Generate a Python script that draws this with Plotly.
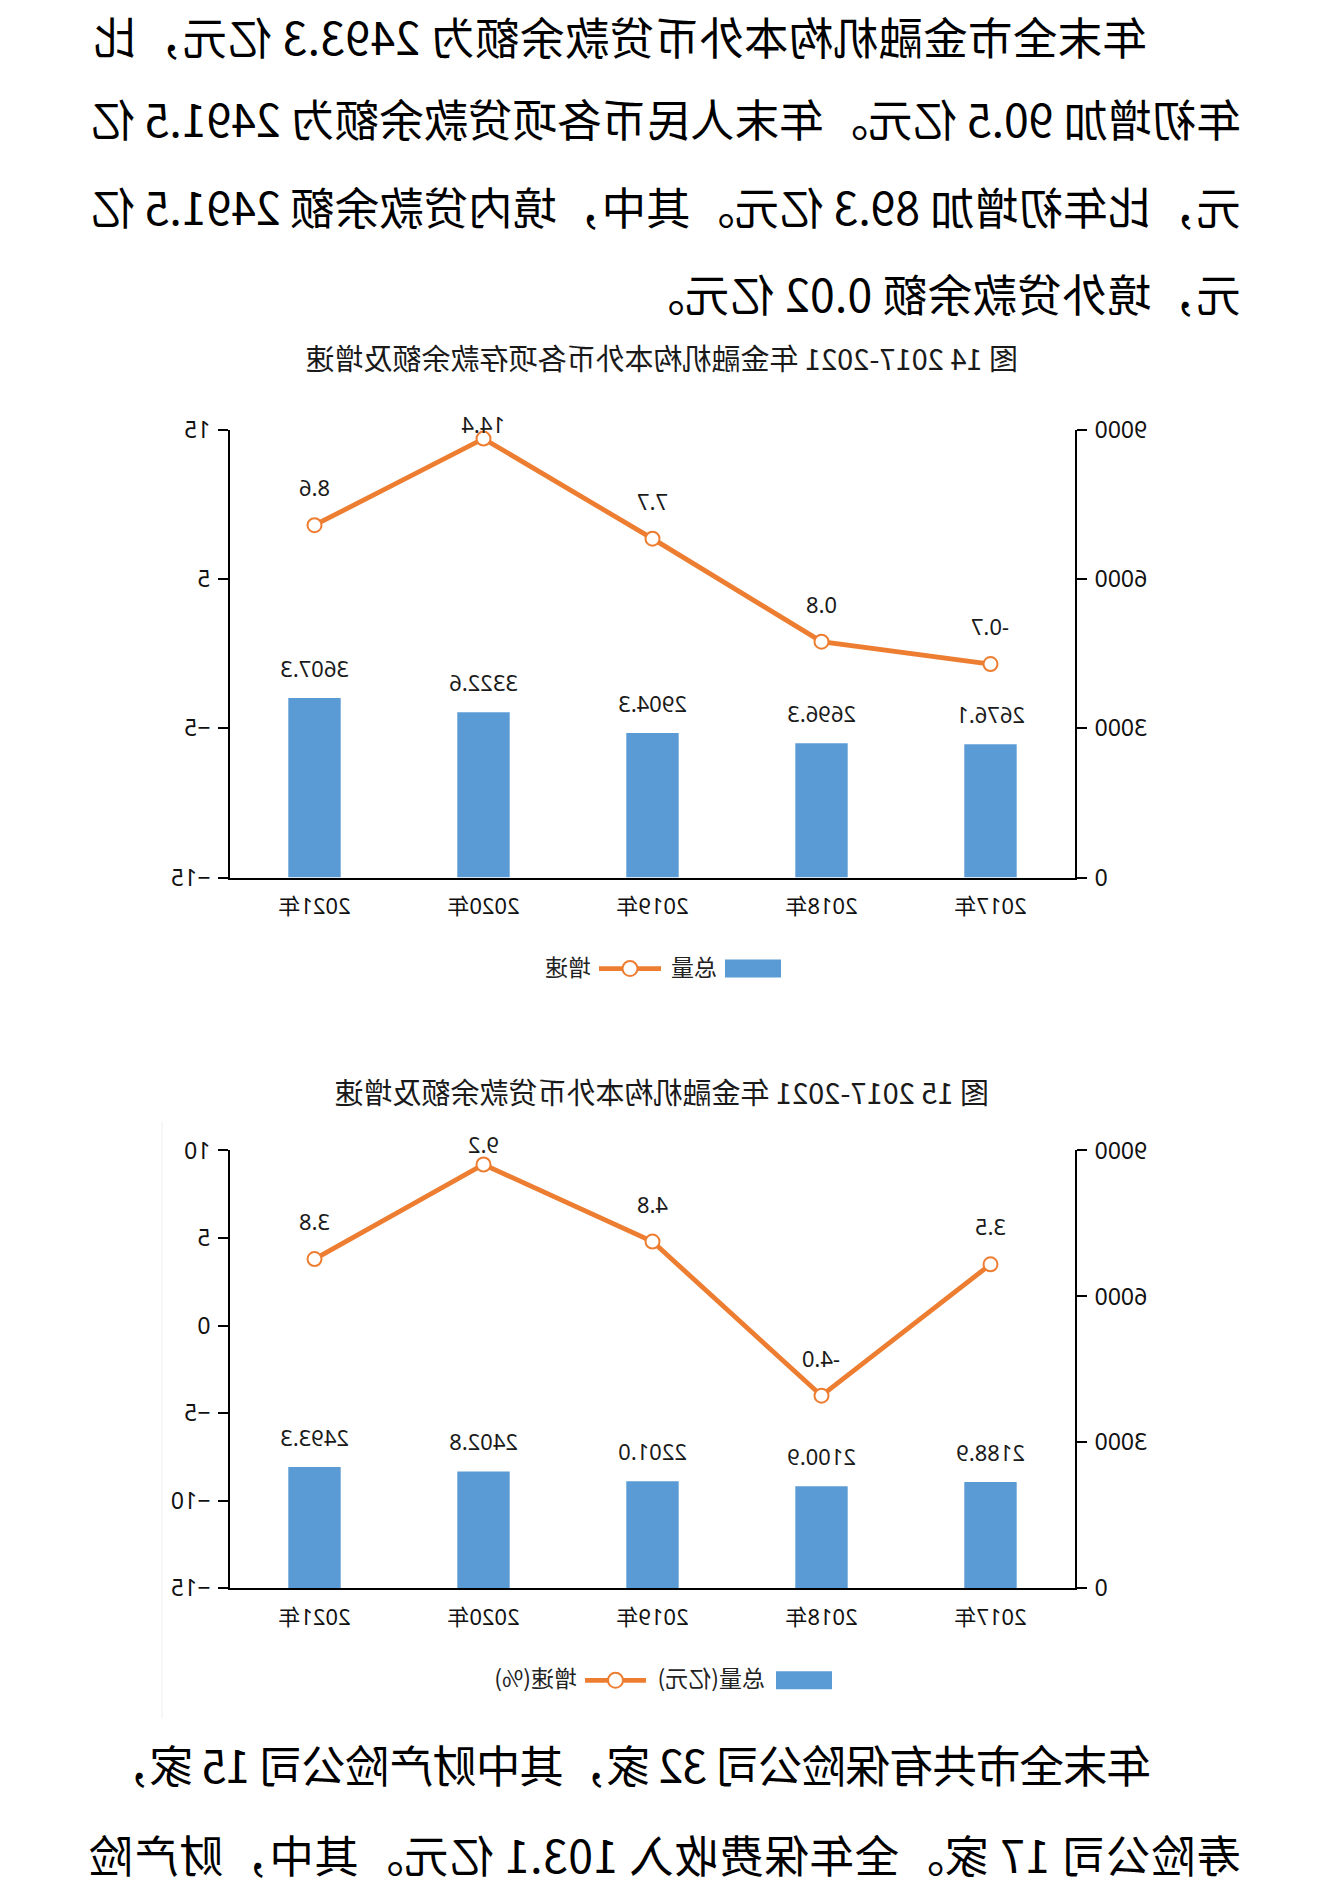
import plotly.graph_objects as go

# page size of the reference picture
W, H = 1323, 1888

# chart data
years = ["2017年", "2018年", "2019年", "2020年", "2021年"]
deposit_total = [2676.1, 2696.3, 2904.3, 3322.6, 3607.3]
deposit_growth = [-0.7, 0.8, 7.7, 14.4, 8.6]
loan_total = [2188.9, 2100.9, 2201.0, 2402.8, 2493.3]
loan_growth = [3.5, -4.0, 4.8, 9.2, 3.8]

total_ticks = [0, 3000, 6000, 9000]
deposit_growth_ticks = [-15, -5, 5, 15]
loan_growth_ticks = [-15, -10, -5, 0, 5, 10]

title_14 = "图 14 2017-2021 年金融机构本外币各项存款余额及增速"
title_15 = "图 15 2017-2021 年金融机构本外币贷款余额及增速"

top_lines = [
    "年末全市金融机构本外币贷款余额为 2493.3 亿元，比",
    "年初增加 90.5 亿元。年末人民币各项贷款余额为 2491.5 亿",
    "元，比年初增加 89.3 亿元。其中，境内贷款余额 2491.5 亿",
    "元，境外贷款余额 0.02 亿元。",
]
bottom_lines = [
    "年末全市共有保险公司 32 家，其中财产险公司 15 家，",
    "寿险公司 17 家。全年保费收入 103.1 亿元。其中，财产险",
]

BLUE = "#5B9BD5"
ORANGE = "#ED7D31"
NUM_FONT = "Noto Sans, Noto Sans CJK SC, sans-serif"
CJK_FONT = "Noto Sans CJK SC, sans-serif"


def px(x):
    return x / W


def vy(y):
    # reference pixel row -> page pixel row (the photo adds a thin band top and bottom)
    return 1.017 * y - 15.5


def py(y):
    return 1 - vy(y) / H


fig = go.Figure()

# chart 1 (deposits) and chart 2 (loans) share the same horizontal frame
x_dom = [px(248), px(1093)]
charts = [
    dict(xa="x", ya="y", ya2="y2", top=428, bottom=876, total=deposit_total,
         growth=deposit_growth, gticks=deposit_growth_ticks,
         bar_name="总量", line_name="增速",
         leg_y=967, leg_x=[542, 604, 662, 724, 730]),
    dict(xa="x2", ya="y3", ya2="y4", top=1149, bottom=1587, total=loan_total,
         growth=loan_growth, gticks=loan_growth_ticks,
         bar_name="总量(亿元)", line_name="增速(%)",
         leg_y=1679, leg_x=[491, 556, 677, 738, 744]),
]

annotations = []
shapes = []
for c in charts:
    fig.add_trace(go.Bar(
        x=years, y=c["total"], xaxis=c["xa"], yaxis=c["ya"],
        name=c["bar_name"], marker=dict(color=BLUE, line=dict(width=0)),
        width=0.31, hoverinfo="skip", showlegend=False,
    ))
    fig.add_trace(go.Scatter(
        x=years, y=c["growth"], xaxis=c["xa"], yaxis=c["ya2"],
        name=c["line_name"], mode="lines+markers",
        line=dict(color=ORANGE, width=4.8),
        marker=dict(symbol="circle", size=14, color="white",
                    line=dict(color=ORANGE, width=2)),
        hoverinfo="skip", showlegend=False,
    ))
    # value labels above bars
    for yr, v in zip(years, c["total"]):
        annotations.append(dict(
            x=yr, y=v, xref=c["xa"], yref=c["ya"], text=f"{v:.1f}",
            showarrow=False, yanchor="middle", yshift=30,
            font=dict(family=NUM_FONT, size=22, color="#1a1a1a"),
        ))
    # value labels above line points, kept inside the chart top
    g_lo, g_hi = c["gticks"][0], c["gticks"][-1]
    plot_h = vy(c["bottom"]) - vy(c["top"])
    for yr, v in zip(years, c["growth"]):
        from_top = (g_hi - v) / (g_hi - g_lo) * plot_h
        annotations.append(dict(
            x=yr, y=v, xref=c["xa"], yref=c["ya2"], text=f"{v:.1f}",
            showarrow=False, yanchor="middle", yshift=min(38, from_top + 6),
            font=dict(family=NUM_FONT, size=22, color="#1a1a1a"),
        ))

    # legend drawn like the office-style one: wide patch, long line with ring
    ly = c["leg_y"]
    patch_x, bar_txt_x, line_x0, line_x1, line_txt_x = c["leg_x"]
    shapes.append(dict(type="rect", xref="paper", yref="paper",
                       x0=px(patch_x), x1=px(patch_x + 56),
                       y0=py(ly + 9), y1=py(ly - 9),
                       fillcolor=BLUE, line=dict(width=0)))
    shapes.append(dict(type="line", xref="paper", yref="paper",
                       x0=px(line_x0), x1=px(line_x1), y0=py(ly), y1=py(ly),
                       line=dict(color=ORANGE, width=4.8)))
    mid = (line_x0 + line_x1) / 2
    shapes.append(dict(type="circle", xref="paper", yref="paper",
                       x0=px(mid - 7.5), x1=px(mid + 7.5),
                       y0=py(ly + 7.5), y1=py(ly - 7.5),
                       fillcolor="white", line=dict(color=ORANGE, width=2)))
    for text, x in [(c["bar_name"], bar_txt_x), (c["line_name"], line_txt_x)]:
        annotations.append(dict(
            x=px(x), y=py(ly - 3), xref="paper", yref="paper", text=text,
            showarrow=False, xanchor="left", yanchor="middle",
            font=dict(family=CJK_FONT, size=23, color="#222"),
        ))

axis_common = dict(
    showline=True, linecolor="black", linewidth=2, showgrid=False,
    zeroline=False, ticks="outside", ticklen=10, tickwidth=2,
    tickcolor="black", ticklabelstandoff=3, fixedrange=True,
    tickfont=dict(family=NUM_FONT, size=23, color="#111"),
)
xaxis_common = dict(
    showline=True, linecolor="black", linewidth=2, showgrid=False,
    zeroline=False, ticks="", ticklabelstandoff=8, fixedrange=True,
    tickfont=dict(family=NUM_FONT, size=22, color="#111"),
)

fig.update_layout(
    xaxis=dict(domain=x_dom, anchor="y", **xaxis_common),
    yaxis=dict(domain=[py(876), py(428)], range=[0, 9000],
               tickvals=total_ticks, side="left", anchor="x", **axis_common),
    yaxis2=dict(range=[-15, 15], tickvals=deposit_growth_ticks,
                overlaying="y", side="right", anchor="x", **axis_common),
    xaxis2=dict(domain=x_dom, anchor="y3", **xaxis_common),
    yaxis3=dict(domain=[py(1587), py(1149)], range=[0, 9000],
                tickvals=total_ticks, side="left", anchor="x2", **axis_common),
    yaxis4=dict(range=[-15, 10], tickvals=loan_growth_ticks,
                overlaying="y3", side="right", anchor="x2", **axis_common),
)

# chart titles
for text, y in [(title_14, 355), (title_15, 1089)]:
    annotations.append(dict(
        x=0.5, y=py(y), xref="paper", yref="paper", text=text,
        showarrow=False, xanchor="center", yanchor="middle",
        font=dict(family=CJK_FONT, size=29, color="#1a1a1a"),
    ))

# body text around the charts (letter spacing stands in for the justified lines)
body = [
    (top_lines[0], 174, 34, 0.3),
    (top_lines[1], 80, 116, -0.05),
    (top_lines[2], 80, 204, -0.05),
    (top_lines[3], 80, 291, 0.3),
    (bottom_lines[0], 170, 1762, -1.0),
    (bottom_lines[1], 80, 1852, 0.55),
]
for text, x, y, spacing in body:
    annotations.append(dict(
        x=px(x), y=py(y), xref="paper", yref="paper",
        text=f'<span style="letter-spacing:{spacing}px">{text}</span>',
        showarrow=False, xanchor="left", yanchor="middle",
        font=dict(family=CJK_FONT, size=44.5, color="black"),
    ))

# faint frame edge of the second chart
shapes.append(dict(type="line", xref="paper", yref="paper",
                   x0=px(1161), x1=px(1161), y0=py(1120), y1=py(1717),
                   line=dict(color="#EEEEEE", width=1)))

fig.update_layout(
    annotations=annotations,
    shapes=shapes,
    width=W, height=H,
    margin=dict(l=0, r=0, t=0, b=0),
    paper_bgcolor="white", plot_bgcolor="white",
    font=dict(family=NUM_FONT, color="#222"),
    showlegend=False,
)

# the reference page is a mirror image, so flip the rendered page
mirror_js = """
document.documentElement.style.margin = '0';
document.body.style.margin = '0';
var gd = document.getElementById('{plot_id}');
gd.style.transform = 'scaleX(-1)';
gd.style.transformOrigin = 'center';
"""

fig.write_html("out.html", post_script=mirror_js, config={"displayModeBar": False})
